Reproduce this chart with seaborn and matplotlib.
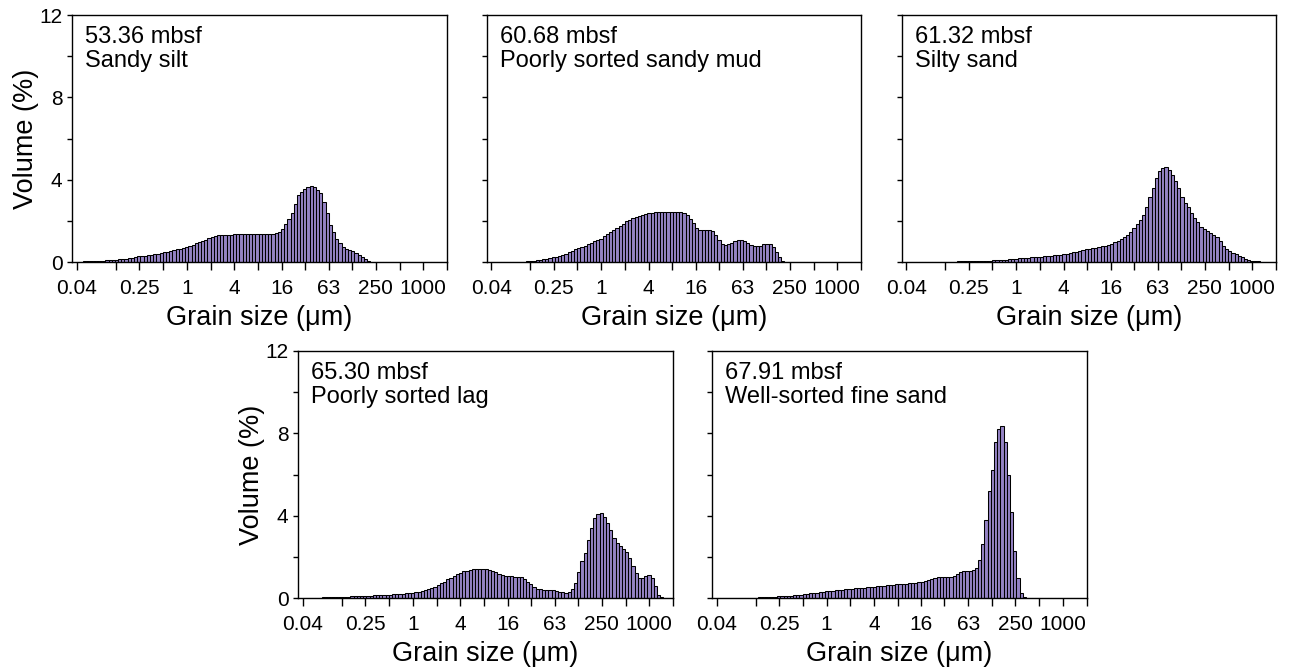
import numpy as np
import pandas as pd
import matplotlib
matplotlib.use("Agg")
import matplotlib.pyplot as plt
import seaborn as sns

# ---------------- data ----------------
n_bins = 116
size_min, size_max = 0.04, 2000.0  # grain size range (um)

depths = ["53.36 mbsf", "60.68 mbsf", "61.32 mbsf", "65.30 mbsf", "67.91 mbsf"]
facies = ["Sandy silt", "Poorly sorted sandy mud", "Silty sand",
          "Poorly sorted lag", "Well-sorted fine sand"]

vol_5336 = [
    0.01, 0.02, 0.03, 0.03, 0.04, 0.05, 0.05, 0.06, 0.07, 0.08,
    0.09, 0.10, 0.11, 0.13, 0.15, 0.17, 0.19, 0.21, 0.24, 0.27,
    0.29, 0.31, 0.33, 0.35, 0.38, 0.41, 0.44, 0.47, 0.50, 0.53,
    0.57, 0.61, 0.65, 0.70, 0.75, 0.80, 0.85, 0.91, 0.97, 1.03,
    1.09, 1.15, 1.21, 1.26, 1.29, 1.31, 1.32, 1.33, 1.33, 1.34,
    1.34, 1.34, 1.34, 1.34, 1.34, 1.34, 1.34, 1.35, 1.35, 1.36,
    1.37, 1.38, 1.40, 1.45, 1.60, 1.83, 2.08, 2.40, 2.80, 3.25,
    3.40, 3.55, 3.65, 3.70, 3.66, 3.50, 3.33, 2.90, 2.40, 1.82,
    1.48, 1.12, 0.90, 0.74, 0.65, 0.60, 0.54, 0.45, 0.34, 0.22,
    0.13, 0.06, 0.02, 0.00, 0.00, 0.00, 0.00, 0.00, 0.00, 0.00,
    0.00, 0.00, 0.00, 0.00, 0.00, 0.00, 0.00, 0.00, 0.00, 0.00,
    0.00, 0.00, 0.00, 0.00, 0.00, 0.00,
]

vol_6068 = [
    0.00, 0.00, 0.00, 0.00, 0.00, 0.00, 0.00, 0.00, 0.00, 0.00,
    0.02, 0.03, 0.05, 0.07, 0.09, 0.11, 0.13, 0.16, 0.19, 0.22,
    0.26, 0.30, 0.35, 0.41, 0.48, 0.54, 0.61, 0.67, 0.74, 0.80,
    0.86, 0.93, 1.00, 1.06, 1.14, 1.24, 1.34, 1.44, 1.54, 1.65,
    1.76, 1.87, 1.97, 2.05, 2.12, 2.18, 2.23, 2.28, 2.33, 2.37,
    2.40, 2.42, 2.43, 2.44, 2.45, 2.45, 2.45, 2.45, 2.45, 2.44,
    2.40, 2.30, 2.10, 1.90, 1.65, 1.55, 1.54, 1.54, 1.55, 1.50,
    1.32, 1.05, 0.88, 0.82, 0.86, 0.94, 1.02, 1.06, 1.06, 1.00,
    0.90, 0.82, 0.77, 0.76, 0.80, 0.86, 0.89, 0.86, 0.74, 0.50,
    0.24, 0.07, 0.00, 0.00, 0.00, 0.00, 0.00, 0.00, 0.00, 0.00,
    0.00, 0.00, 0.00, 0.00, 0.00, 0.00, 0.00, 0.00, 0.00, 0.00,
    0.00, 0.00, 0.00, 0.00, 0.00, 0.00,
]

vol_6132 = [
    0.00, 0.00, 0.00, 0.00, 0.00, 0.00, 0.00, 0.00, 0.01, 0.01,
    0.01, 0.02, 0.02, 0.02, 0.02, 0.02, 0.03, 0.03, 0.03, 0.03,
    0.03, 0.04, 0.04, 0.05, 0.05, 0.06, 0.07, 0.08, 0.09, 0.10,
    0.11, 0.12, 0.14, 0.15, 0.17, 0.18, 0.19, 0.20, 0.21, 0.22,
    0.23, 0.24, 0.26, 0.27, 0.29, 0.30, 0.32, 0.34, 0.36, 0.38,
    0.41, 0.44, 0.47, 0.50, 0.54, 0.57, 0.61, 0.64, 0.67, 0.70,
    0.73, 0.76, 0.80, 0.84, 0.89, 0.95, 1.02, 1.10, 1.20, 1.32,
    1.48, 1.65, 1.85, 2.02, 2.28, 2.65, 3.15, 3.60, 4.10, 4.40,
    4.58, 4.60, 4.45, 4.25, 3.95, 3.60, 3.15, 2.85, 2.65, 2.38,
    2.15, 1.95, 1.72, 1.60, 1.52, 1.43, 1.32, 1.20, 1.00, 0.80,
    0.65, 0.53, 0.44, 0.38, 0.30, 0.23, 0.16, 0.11, 0.07, 0.05,
    0.03, 0.02, 0.01, 0.00, 0.00, 0.00,
]

vol_6530 = [
    0.00, 0.00, 0.01, 0.01, 0.02, 0.02, 0.03, 0.03, 0.04, 0.04,
    0.05, 0.05, 0.06, 0.07, 0.07, 0.08, 0.09, 0.09, 0.10, 0.11,
    0.12, 0.12, 0.13, 0.14, 0.15, 0.16, 0.16, 0.17, 0.18, 0.19,
    0.20, 0.21, 0.22, 0.24, 0.25, 0.27, 0.30, 0.33, 0.37, 0.42,
    0.48, 0.54, 0.62, 0.71, 0.80, 0.90, 0.99, 1.07, 1.15, 1.23,
    1.29, 1.33, 1.37, 1.39, 1.40, 1.41, 1.41, 1.39, 1.36, 1.31,
    1.25, 1.19, 1.13, 1.09, 1.06, 1.05, 1.04, 1.03, 1.02, 0.93,
    0.80, 0.66, 0.52, 0.45, 0.42, 0.41, 0.41, 0.41, 0.40, 0.35,
    0.30, 0.27, 0.26, 0.30, 0.42, 0.75, 1.25, 1.80, 2.20, 2.80,
    3.40, 3.90, 4.10, 4.12, 3.95, 3.65, 3.30, 2.90, 2.68, 2.52,
    2.40, 2.22, 1.95, 1.55, 1.22, 0.98, 0.95, 1.05, 1.10, 0.98,
    0.60, 0.15, 0.03, 0.00, 0.00, 0.00,
]

vol_6791 = [
    0.00, 0.00, 0.00, 0.00, 0.00, 0.00, 0.00, 0.00, 0.00, 0.01,
    0.01, 0.02, 0.02, 0.03, 0.03, 0.04, 0.05, 0.06, 0.07, 0.08,
    0.09, 0.10, 0.11, 0.12, 0.13, 0.15, 0.16, 0.18, 0.20, 0.22,
    0.24, 0.26, 0.28, 0.30, 0.32, 0.34, 0.36, 0.38, 0.39, 0.41,
    0.42, 0.44, 0.45, 0.47, 0.48, 0.50, 0.51, 0.53, 0.54, 0.55,
    0.57, 0.58, 0.60, 0.61, 0.63, 0.64, 0.66, 0.67, 0.69, 0.70,
    0.72, 0.73, 0.75, 0.77, 0.80, 0.84, 0.88, 0.94, 0.99, 1.02,
    1.03, 1.02, 1.00, 1.01, 1.08, 1.18, 1.27, 1.31, 1.33, 1.33,
    1.34, 1.45, 1.85, 2.60, 3.80, 5.20, 6.20, 7.60, 8.20, 8.35,
    7.60, 6.00, 4.20, 2.30, 0.95, 0.25, 0.03, 0.00, 0.00, 0.00,
    0.00, 0.00, 0.00, 0.00, 0.00, 0.00, 0.00, 0.00, 0.00, 0.00,
    0.00, 0.00, 0.00, 0.00, 0.00, 0.00,
]

samples = [vol_5336, vol_6068, vol_6132, vol_6530, vol_6791]

xtick_values = [0.04, 0.125, 0.25, 0.5, 1, 2, 4, 8, 16, 31.25, 63, 125, 250, 500, 1000, 2000]
xtick_labels = ["0.04", "", "0.25", "", "1", "", "4", "", "16", "", "63", "", "250", "", "1000", ""]
ytick_values = [0, 2, 4, 6, 8, 10, 12]
ytick_labels = ["0", "", "4", "", "8", "", "12"]

# ---------------- style ----------------
sns.set_style("ticks")
plt.rcParams["font.family"] = ["Liberation Sans", "DejaVu Sans"]
bar_color = "#9483c4"

log_lo, log_hi = np.log10(size_min), np.log10(size_max)
log_edges = np.linspace(log_lo, log_hi, n_bins + 1)
centers = 10 ** ((log_edges[:-1] + log_edges[1:]) / 2)

fig = plt.figure(figsize=(12.9, 6.71), dpi=100)
W, H = 1290, 671
boxes = [  # left, top, right, bottom in pixels
    (72, 15, 447, 262),
    (486.5, 15, 861, 262),
    (901.5, 15, 1276, 262),
    (298, 351, 673, 598),
    (712, 351, 1086.5, 598),
]

for k, (l, t, r, b) in enumerate(boxes):
    ax = fig.add_axes([l / W, 1 - b / H, (r - l) / W, (b - t) / H])
    df = pd.DataFrame({"size": centers, "vol": samples[k]})
    sns.histplot(data=df, x="size", weights="vol", bins=n_bins,
                 binrange=(log_lo, log_hi), log_scale=True,
                 stat="count", element="bars", color=bar_color, alpha=1,
                 edgecolor="black", linewidth=0.75, ax=ax)
    ax.set_xlim(0.035, 2000)
    ax.set_ylim(0, 12)
    ax.xaxis.set_major_locator(matplotlib.ticker.FixedLocator(xtick_values))
    ax.xaxis.set_minor_locator(matplotlib.ticker.NullLocator())
    ax.set_xticklabels(xtick_labels)
    ax.set_yticks(ytick_values)
    for s in ax.spines.values():
        s.set_visible(True)
        s.set_linewidth(1.0)
        s.set_color("black")
    ax.tick_params(axis="x", direction="out", length=6, width=1.0, labelsize=15,
                   pad=6, colors="black")
    ax.tick_params(axis="y", direction="out", length=3.8, width=1.0, labelsize=15,
                   pad=3, colors="black")
    ax.set_xlabel("Grain size (\u03bcm)", fontsize=19.5, labelpad=5, color="black")
    if k in (0, 3):
        ax.set_yticklabels(ytick_labels)
        ax.set_ylabel("Volume (%)", fontsize=19.5, labelpad=0, color="black")
    else:
        ax.set_yticklabels([])
        ax.set_ylabel("")
    ax.text(0.035, 0.955, depths[k] + "\n" + facies[k], transform=ax.transAxes,
            ha="left", va="top", fontsize=17, linespacing=1.1, color="black")

fig.savefig("out.png", dpi=100)
